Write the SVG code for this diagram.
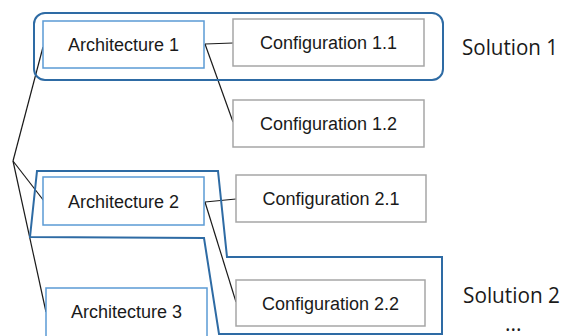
<svg xmlns="http://www.w3.org/2000/svg" width="562" height="336" viewBox="0 0 562 336">
<style>
.arch{fill:#fff;stroke:#5b9bd5;stroke-width:1.5}
.conf{fill:#fff;stroke:#a6a6a6;stroke-width:1.5}
.sol{fill:none;stroke:#2e6ba4;stroke-width:2}
.lbl{font-family:"Liberation Sans",Arial,sans-serif;font-size:18px;fill:#1a1a1a;text-anchor:middle}
.st{font-family:"Open Sans","Noto Sans",sans-serif;font-size:21px;fill:#1a1a1a}
.edge{stroke:#1a1a1a;stroke-width:1.2;fill:none}
</style>
<g id="connectors">
<line class="edge" x1="13" y1="161" x2="43" y2="47"/>
<line class="edge" x1="13" y1="161" x2="44" y2="201"/>
<line class="edge" x1="13" y1="161" x2="46" y2="312"/>
<line class="edge" x1="205" y1="44" x2="233" y2="43"/>
<line class="edge" x1="205" y1="44" x2="233" y2="122"/>
<line class="edge" x1="205" y1="202" x2="236" y2="199"/>
<line class="edge" x1="205" y1="202" x2="236" y2="302"/>
</g>
<g id="arch1"><rect class="arch" x="43" y="21" width="161" height="47"/><text class="lbl" x="123.5" y="51">Architecture 1</text></g>
<g id="conf11"><rect class="conf" x="233" y="19" width="191" height="47"/><text class="lbl" x="328.5" y="49">Configuration 1.1</text></g>
<g id="conf12"><rect class="conf" x="233" y="100" width="191" height="47"/><text class="lbl" x="328.5" y="130">Configuration 1.2</text></g>
<g id="arch2"><rect class="arch" x="43" y="177" width="161" height="48"/><text class="lbl" x="123.5" y="208">Architecture 2</text></g>
<g id="conf21"><rect class="conf" x="236" y="175" width="190" height="47"/><text class="lbl" x="331" y="205">Configuration 2.1</text></g>
<g id="conf22"><rect class="conf" x="236" y="280" width="189" height="46"/><text class="lbl" x="330.5" y="310">Configuration 2.2</text></g>
<g id="arch3"><rect class="arch" x="46" y="288" width="161" height="60"/><text class="lbl" x="126.5" y="318">Architecture 3</text></g>
<g id="solution1"><rect class="sol" x="34" y="13" width="409" height="67" rx="11"/><text class="st" x="462" y="55" textLength="96" lengthAdjust="spacingAndGlyphs">Solution 1</text></g>
<g id="solution2"><polygon class="sol" points="37,171 218,171 227,257 442,257 442,334 219,334 204,238 30,237"/><text class="st" x="463" y="303" textLength="97" lengthAdjust="spacingAndGlyphs">Solution 2</text><text class="st" x="505" y="331" font-size="18">...</text></g>
</svg>
